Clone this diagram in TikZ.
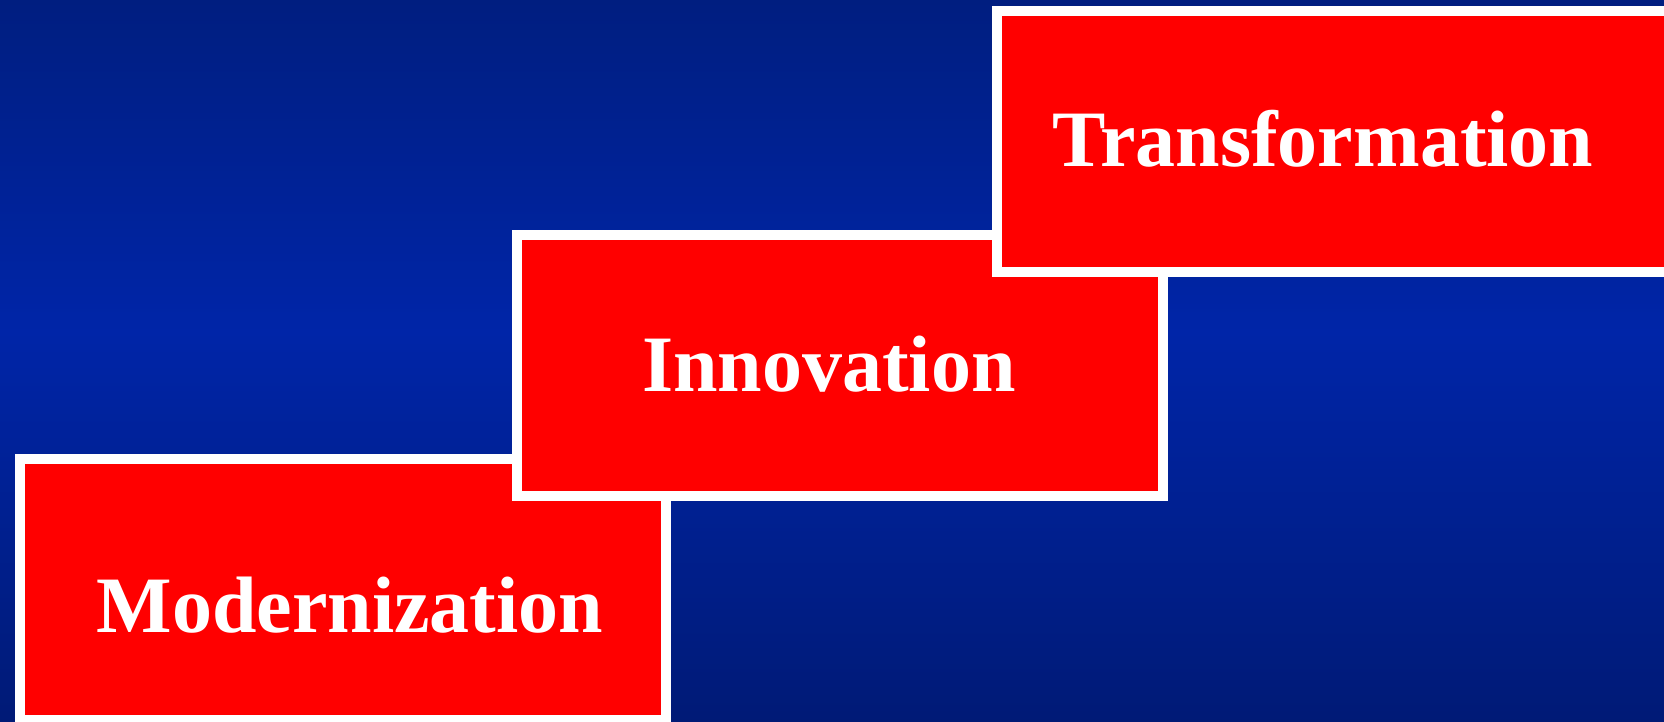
\documentclass[tikz,border=0pt]{standalone}
\usepackage{fontspec}
\setmainfont{Liberation Serif}
\definecolor{blauoben}{RGB}{0,30,128}
\definecolor{blaumitte}{RGB}{0,37,168}
\definecolor{blauunten}{RGB}{0,26,118}
\pgfdeclareverticalshading{hintergrund}{100bp}{color(0bp)=(blauunten); color(25bp)=(blauunten); color(52bp)=(blaumitte); color(75bp)=(blauoben); color(100bp)=(blauoben)}
\tikzset{
	kasten/.style={draw=white, line width=10pt, fill=red},
	wort/.style={text=white, anchor=base, inner sep=0pt, font=\bfseries\fontsize{80}{96}\selectfont}
}
\begin{document}
\begin{tikzpicture}[x=1pt, y=1pt]
	\useasboundingbox (0, 0) rectangle (1664, 722);
	\clip (0, 0) rectangle (1664, 722);
	% Hintergrund
	\shade [shading=hintergrund] (0, 0) rectangle (1664, 722);
	% Kaesten
	\draw [kasten] (20, 2) rectangle ++ (646, 261);
	\draw [kasten] (516.5, 226) rectangle ++ (646.5, 261);
	\draw [kasten] (996.5, 450) rectangle ++ (720, 261);
	% Beschriftung
	\node [wort] (modern) at (350, 89) {Modernization};
	\node [wort] (innov) at (829, 330) {Innovation};
	\node [wort] (transf) at (1323, 555) {Transformation};
\end{tikzpicture}
\end{document}
